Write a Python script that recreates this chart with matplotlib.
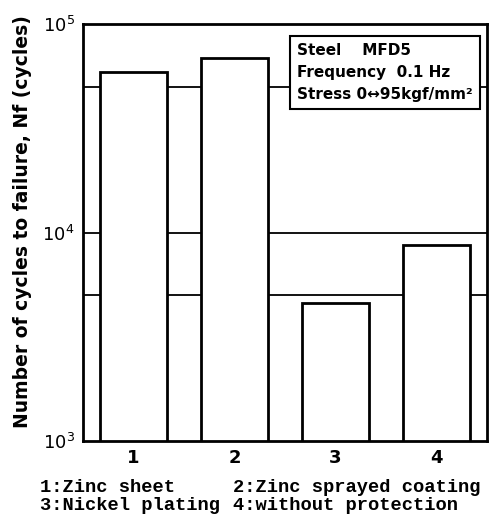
import numpy as np
import matplotlib
matplotlib.use("Agg")
import matplotlib.pyplot as plt

# data
categories = ["1", "2", "3", "4"]
cycles = [5.9e4, 6.9e4, 4.6e3, 8.7e3]
grid_levels = [5e4, 1e4, 5e3]
y_ticks = [1e3, 1e4, 1e5]
y_tick_labels = ["$10^3$", "$10^4$", "$10^5$"]
legend_lines = [("1:Zinc sheet", "2:Zinc sprayed coating"),
                ("3:Nickel plating", "4:without protection")]
info_text = "Steel    MFD5\nFrequency  0.1 Hz\nStress 0\u219495kgf/mm\u00b2"

fig = plt.figure(figsize=(4.94, 5.18), dpi=100)
ax = fig.add_axes([0.168, 0.1486, 0.818, 0.805])

x = np.arange(1, len(categories) + 1)

# horizontal reference lines sit behind the white bars
for g in grid_levels:
    ax.axhline(g, color="black", lw=1.3, zorder=1)

ax.set_yscale("log")
ax.bar(x, cycles, width=0.66, color="white",
       edgecolor="black", linewidth=2, zorder=2)

ax.set_ylim(1e3, 1e5)
ax.set_xlim(0.5, 4.5)
ax.set_yticks(y_ticks)
ax.set_yticklabels(y_tick_labels, fontsize=13)
ax.yaxis.set_minor_locator(matplotlib.ticker.NullLocator())
ax.set_xticks(x)
ax.set_xticklabels(categories, fontsize=13, fontweight="bold")
ax.tick_params(length=0, pad=6)

for s in ax.spines.values():
    s.set_linewidth(2)

ax.text(0.965, 0.955, info_text, transform=ax.transAxes, ha="right", va="top",
        multialignment="left", fontsize=11, fontweight="bold",
        linespacing=1.6, zorder=5,
        bbox=dict(boxstyle="square,pad=0.45", facecolor="white",
                  edgecolor="black", linewidth=1.5))

fig.text(0.045, (518 - 222) / 518, "Number of cycles to failure, Nf (cycles)",
         rotation=90, ha="center", va="center", fontsize=13.5, fontweight="bold")

for i, (a, b) in enumerate(legend_lines):
    yy = (518 - 487 - i * 18) / 518
    fig.text(40 / 494, yy, a, family="Liberation Mono", fontweight="bold",
             fontsize=13.5, va="center")
    fig.text(233 / 494, yy, b, family="Liberation Mono", fontweight="bold",
             fontsize=13.5, va="center")

fig.savefig("out.png", dpi=100)
